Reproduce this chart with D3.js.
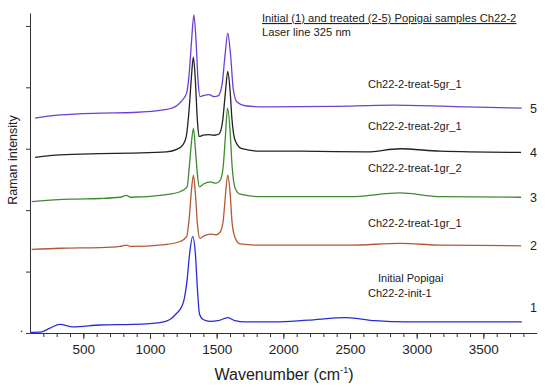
<!DOCTYPE html>
<html>
<head>
<meta charset="utf-8">
<script src="https://cdn.jsdelivr.net/npm/d3@7"></script>
<style>
  body { margin: 0; background: #fff; }
  text { font-family: "Liberation Sans", Arial, sans-serif; fill: #222; }
</style>
</head>
<body>
<figure id="raman" style="margin:0"></figure>
<script>
// wavenumber (cm-1) / intensity pairs, one array per spectrum
const wave1 = [100, 188, 250, 325, 422, 625, 872, 1075, 1150, 1195, 1238, 1255, 1278, 1296, 1320, 1341, 1356, 1371, 1398, 1450, 1510, 1583, 1638, 1712, 1938, 2185, 2475, 2688, 2935, 3788];
const int1 = [0.01, 0.02, 0.08, 0.14, 0.10, 0.13, 0.14, 0.17, 0.22, 0.31, 0.43, 0.54, 0.86, 1.27, 1.57, 1.27, 0.70, 0.31, 0.22, 0.19, 0.20, 0.25, 0.20, 0.18, 0.18, 0.21, 0.25, 0.20, 0.18, 0.18];

const wave2 = [113, 325, 625, 775, 825, 850, 1112, 1225, 1275, 1296, 1311, 1326, 1341, 1356, 1375, 1405, 1450, 1495, 1525, 1548, 1566, 1583, 1600, 1615, 1638, 1675, 1825, 2125, 2500, 2875, 3175, 3783];
const int2 = [1.36, 1.38, 1.39, 1.41, 1.43, 1.41, 1.44, 1.49, 1.57, 1.92, 2.33, 2.57, 2.25, 1.76, 1.54, 1.58, 1.61, 1.60, 1.64, 1.81, 2.25, 2.57, 2.30, 1.81, 1.55, 1.45, 1.43, 1.43, 1.43, 1.46, 1.43, 1.42];

const wave3 = [113, 400, 625, 775, 825, 850, 1112, 1225, 1278, 1296, 1311, 1326, 1341, 1356, 1370, 1405, 1450, 1495, 1525, 1548, 1566, 1581, 1600, 1615, 1638, 1675, 1825, 2125, 2500, 2875, 3175, 3783];
const int3 = [2.14, 2.18, 2.19, 2.21, 2.24, 2.21, 2.25, 2.30, 2.38, 2.74, 3.11, 3.33, 2.98, 2.57, 2.38, 2.43, 2.46, 2.44, 2.48, 2.69, 3.22, 3.66, 3.31, 2.74, 2.36, 2.26, 2.22, 2.22, 2.22, 2.28, 2.22, 2.21];

const wave4 = [138, 325, 625, 872, 1125, 1200, 1245, 1270, 1293, 1310, 1325, 1340, 1355, 1368, 1398, 1437, 1480, 1518, 1544, 1566, 1583, 1600, 1615, 1638, 1690, 1825, 2125, 2625, 2875, 3175, 3783];
const int4 = [2.86, 2.90, 2.92, 2.93, 2.95, 2.99, 3.06, 3.18, 3.63, 4.15, 4.49, 4.12, 3.47, 3.20, 3.22, 3.23, 3.22, 3.24, 3.44, 3.93, 4.26, 3.96, 3.47, 3.14, 3.00, 2.96, 2.96, 2.95, 3.00, 2.96, 2.94];

const wave5 = [138, 198, 325, 625, 872, 1125, 1200, 1238, 1275, 1296, 1313, 1329, 1345, 1360, 1375, 1405, 1443, 1480, 1510, 1540, 1563, 1583, 1604, 1625, 1653, 1712, 1875, 2373, 2823, 3375, 3788];
const int5 = [3.50, 3.52, 3.55, 3.58, 3.59, 3.64, 3.70, 3.78, 3.91, 4.28, 4.80, 5.18, 4.77, 4.12, 3.85, 3.87, 3.88, 3.85, 3.86, 4.04, 4.53, 4.88, 4.53, 3.96, 3.76, 3.70, 3.68, 3.69, 3.71, 3.68, 3.66];

const sampleNames = ["Ch22-2-init-1", "Ch22-2-treat-1gr_1", "Ch22-2-treat-1gr_2", "Ch22-2-treat-2gr_1", "Ch22-2-treat-5gr_1"];
const sampleNums = ["1", "2", "3", "4", "5"];
const xTicks = [500, 1000, 1500, 2000, 2500, 3000, 3500];
const yTicks = [0, 1, 2, 3, 4, 5];

const width = 550, height = 387;
const colors = ["#2b2bd6", "#b25a36", "#3f8a30", "#222222", "#6d40d2"];

const svg = d3.select("figure#raman")
  .append("svg")
  .attr("width", width)
  .attr("height", height);

// Add X axis
const x = d3.scaleLinear()
  .domain([100, 3900])
  .range([30, 536.7]);

// Add Y axis
const y = d3.scaleLinear()
  .domain([0, 5.21])
  .range([333, 13]);

// minor ticks first, then major with labels
svg.append("g")
  .attr("transform", "translate(0,333)")
  .call(d3.axisBottom(x).tickValues(d3.range(200, 3900, 100)).tickSize(4).tickFormat(""))
  .call(g => g.select(".domain").remove());

const xAxis = svg.append("g")
  .attr("transform", "translate(0,333)")
  .call(d3.axisBottom(x).tickValues(xTicks).tickSize(6).tickSizeOuter(0).tickPadding(5)
    .tickFormat(d3.format("d")));
xAxis.selectAll("text").style("font-size", "13.5px").attr("fill", "#222");

const yAxis = svg.append("g")
  .attr("transform", "translate(30,0)")
  .call(d3.axisLeft(y).tickValues(yTicks).tickSize(4).tickSizeOuter(0)
    .tickFormat(d => d === 0 ? "." : ""));
yAxis.selectAll("text").style("font-size", "12px").attr("dy", "-0.1em");

svg.selectAll(".domain, .tick line").attr("stroke", "#333").attr("stroke-width", 1);

// spectra
const line = d3.line()
  .x(d => x(d[0]))
  .y(d => y(d[1]))
  .curve(d3.curveMonotoneX);

const spectra = [
  d3.zip(wave1, int1),
  d3.zip(wave2, int2),
  d3.zip(wave3, int3),
  d3.zip(wave4, int4),
  d3.zip(wave5, int5)
];

svg.append("g").selectAll("path")
  .data(spectra)
  .enter()
  .append("path")
  .attr("d", line)
  .attr("fill", "none")
  .attr("stroke", (d, i) => colors[i])
  .attr("stroke-width", 1.3);

// sample labels above each trace
const nameY = [297, 227, 172, 130, 88];
svg.append("g").selectAll("text")
  .data(sampleNames)
  .enter()
  .append("text")
  .attr("x", 368)
  .attr("y", (d, i) => nameY[i])
  .style("font-size", "11px")
  .text(d => d);

svg.append("text")
  .attr("x", 378)
  .attr("y", 282)
  .style("font-size", "11px")
  .text("Initial Popigai");

// numbers at the right end
svg.append("g").selectAll("text")
  .data(sampleNums)
  .enter()
  .append("text")
  .attr("x", 530)
  .attr("y", (d, i) => y(spectra[i][spectra[i].length - 1][1]) + 4.5 - (i === 0 ? 14 : 0))
  .style("font-size", "12.5px")
  .text(d => d);

// header
svg.append("text")
  .attr("x", 262)
  .attr("y", 22)
  .style("font-size", "11.2px")
  .style("text-decoration", "underline")
  .text("Initial (1) and treated (2-5) Popigai samples Ch22-2");

svg.append("text")
  .attr("x", 262)
  .attr("y", 36)
  .style("font-size", "11.2px")
  .text("Laser line 325 nm");

// axis titles
const xt = svg.append("text")
  .attr("x", 284)
  .attr("y", 380)
  .attr("text-anchor", "middle")
  .style("font-size", "16px");
xt.append("tspan").text("Wavenumber (cm");
xt.append("tspan").attr("dy", -7).style("font-size", "9px").text("-1");
xt.append("tspan").attr("dy", 7).text(")");

svg.append("text")
  .attr("transform", "translate(17,160) rotate(-90)")
  .attr("text-anchor", "middle")
  .style("font-size", "12.5px")
  .text("Raman intensity");
</script>
</body>
</html>
